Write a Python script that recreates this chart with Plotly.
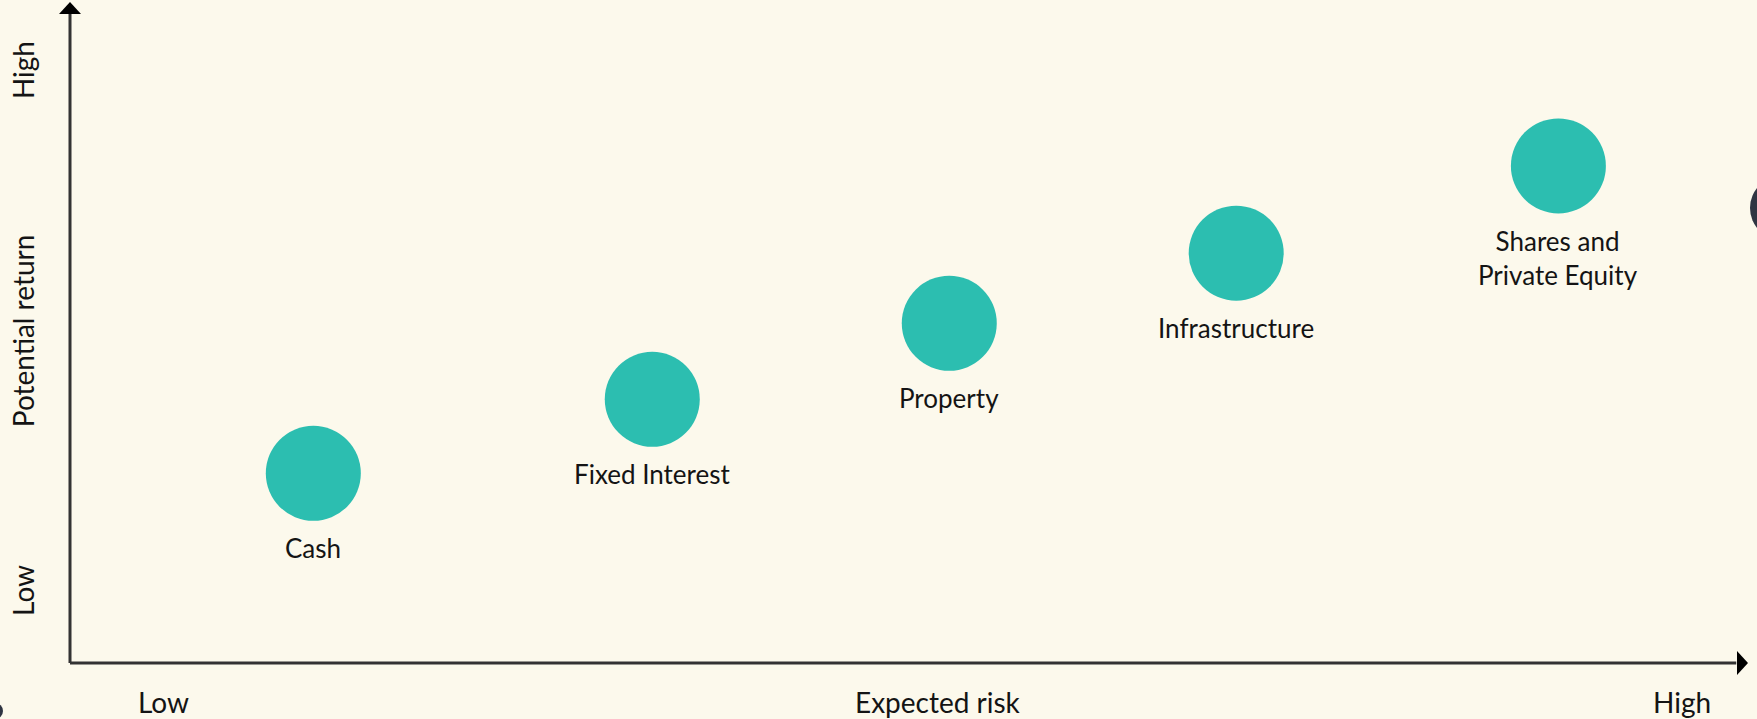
import plotly.graph_objects as go

# ---- data ----
categories = ["Cash", "Fixed Interest", "Property", "Infrastructure", "Shares and<br>Private Equity"]
expected_risk = [1.45, 3.47, 5.24, 6.95, 8.87]      # 0-10 scale (Low -> High)
potential_return = [2.87, 3.99, 5.14, 6.20, 7.52]   # 0-10 scale (Low -> High)
x_tick_labels = ["Low", "High"]
y_tick_labels = ["Low", "High"]
x_title = "Expected risk"
y_title = "Potential return"

W, H = 1757, 719
ML, MR, MT, MB = 70, 9, 2, 56
BG = "#fcf9ec"
TEAL = "#2cbeb0"
AXIS = "#333333"
TXT = "#141414"
FONT = "Lato"

fig = go.Figure()
fig.add_trace(go.Scatter(
    x=expected_risk, y=potential_return, mode="markers",
    marker=dict(size=95, color=TEAL, line=dict(width=0)),
    hoverinfo="text", hovertext=categories, showlegend=False,
))

annotations = []
for cx, cy, lab in zip(expected_risk, potential_return, categories):
    annotations.append(dict(
        x=cx, y=cy, xref="x", yref="y", text=lab, showarrow=False,
        xanchor="center", yanchor="top", yshift=-57,
        font=dict(family=FONT, size=26, color=TXT),
    ))

AX_FONT = dict(family=FONT, size=28, color=TXT)
annotations += [
    dict(x=0.056, y=-0.059, xref="paper", yref="paper", text=x_tick_labels[0], showarrow=False,
         xanchor="center", yanchor="middle", font=AX_FONT),
    dict(x=0.9607, y=-0.059, xref="paper", yref="paper", text=x_tick_labels[1], showarrow=False,
         xanchor="center", yanchor="middle", font=AX_FONT),
    dict(x=0.5173, y=-0.059, xref="paper", yref="paper", text=x_title, showarrow=False,
         xanchor="center", yanchor="middle", font=AX_FONT),
    dict(x=-0.028, y=0.109, xref="paper", yref="paper", text=y_tick_labels[0], showarrow=False,
         textangle=-90, xanchor="center", yanchor="middle", font=AX_FONT),
    dict(x=-0.028, y=0.897, xref="paper", yref="paper", text=y_tick_labels[1], showarrow=False,
         textangle=-90, xanchor="center", yanchor="middle", font=AX_FONT),
    dict(x=-0.028, y=0.502, xref="paper", yref="paper", text=y_title, showarrow=False,
         textangle=-90, xanchor="center", yanchor="middle", font=AX_FONT),
]

shapes = [
    # x axis line
    dict(type="line", xref="paper", yref="paper", x0=0, x1=0.993, y0=0, y1=0,
         line=dict(color=AXIS, width=3)),
    # y axis line
    dict(type="line", xref="paper", yref="paper", x0=0, x1=0, y0=0, y1=0.985,
         line=dict(color=AXIS, width=3)),
    # x arrowhead
    dict(type="path", xref="paper", yref="paper", xsizemode="pixel", ysizemode="pixel",
         xanchor=1, yanchor=0, path="M 0 0 L -11 12 L -11 -12 Z",
         fillcolor="#000000", line=dict(width=0)),
    # y arrowhead
    dict(type="path", xref="paper", yref="paper", xsizemode="pixel", ysizemode="pixel",
         xanchor=0, yanchor=1, path="M 0 0 L -11 -12 L 11 -12 Z",
         fillcolor="#000000", line=dict(width=0)),
    # partially visible page controls at the edges
    dict(type="circle", xref="paper", yref="paper", xsizemode="pixel", ysizemode="pixel",
         xanchor=(1782 - ML) / (W - ML - MR), yanchor=(H - MB - 208) / (H - MT - MB),
         x0=-32, x1=32, y0=-32, y1=32, fillcolor="#2f3542", line=dict(width=0)),
    dict(type="circle", xref="paper", yref="paper", xsizemode="pixel", ysizemode="pixel",
         xanchor=(-5 - ML) / (W - ML - MR), yanchor=(H - MB - 711) / (H - MT - MB),
         x0=-8, x1=8, y0=-8, y1=8, fillcolor="#2f3542", line=dict(width=0)),
]

fig.update_layout(
    width=W, height=H,
    margin=dict(l=ML, r=MR, t=MT, b=MB),
    paper_bgcolor=BG, plot_bgcolor=BG,
    xaxis=dict(range=[0, 10], visible=False, fixedrange=True),
    yaxis=dict(range=[0, 10], visible=False, fixedrange=True),
    annotations=annotations, shapes=shapes,
    showlegend=False,
)

fig.write_html(
    "out.html",
    config={"displayModeBar": False},
    post_script="document.body.style.margin='0';document.body.style.padding='0';"
                "document.body.style.overflow='hidden';"
                "document.documentElement.style.background='" + BG + "';",
)
